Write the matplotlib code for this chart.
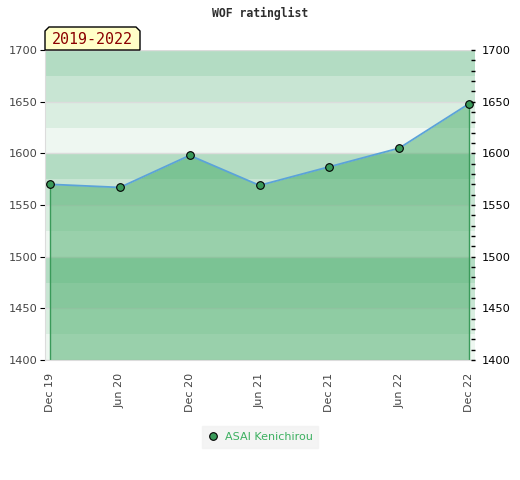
import numpy as np
import matplotlib.pyplot as plt
from matplotlib.patches import Polygon
from matplotlib.ticker import MultipleLocator

# --- data ---
dates = ['Dec 19', 'Jun 20', 'Dec 20', 'Jun 21', 'Dec 21', 'Jun 22', 'Dec 22']
rating = [1570, 1567, 1598, 1569, 1587, 1605, 1648]
player = 'ASAI Kenichirou'
period = '2019-2022'

# background bands, repeating every 100 points (x00-x25 lightest ... x75-x00 darkest)
band_colors = ['#eef7f1', '#daeee1', '#c8e5d3', '#b3dcc3']

fig = plt.figure(figsize=(5.2, 4.8), dpi=100)
ax = fig.add_axes([45/520, 1 - 360/480, 430/520, 310/480])

ymin, ymax = 1400, 1700
for i, lo in enumerate(range(ymin, ymax, 25)):
    ax.axhspan(lo, lo + 25, color=band_colors[i % 4], lw=0, zorder=0)
for y in range(ymin, ymax + 1, 50):
    ax.axhline(y, color='#dcdcdc', lw=1, zorder=0.5)

x = np.arange(len(dates))
ax.fill_between(x, rating, ymin, color='#45ab66', alpha=0.5, lw=0, zorder=1)
ax.vlines([x[0], x[-1]], ymin, [rating[0], rating[-1]], color='#3a9a5a', lw=1, zorder=2)
ax.plot(x, rating, color='#5ba3d9', lw=1.3, zorder=3)
ax.plot(x, rating, 'o', ms=5.5, mfc='#3a9a5a', mec='black', mew=0.8, zorder=4,
        label=player)

ax.set_xlim(-0.072, 6.086)
ax.set_ylim(ymin, ymax)
ax.set_xticks(x)
ax.set_xticklabels(dates, rotation=90, fontsize=8, color='#444444')
ax.tick_params(axis='x', length=0, pad=9)
ax.yaxis.set_major_locator(MultipleLocator(50))
ax.tick_params(axis='y', left=False, labelsize=8.2, labelcolor='#444444', pad=2)
for s in ax.spines.values():
    s.set_visible(False)
ax.spines['left'].set_visible(True)
ax.spines['bottom'].set_visible(True)
ax.spines['left'].set_color('#dcdcdc')
ax.spines['bottom'].set_color('#dcdcdc')

# right axis with minor ticks
ax2 = ax.twinx()
ax2.set_ylim(ymin, ymax)
ax2.yaxis.set_major_locator(MultipleLocator(50))
ax2.yaxis.set_minor_locator(MultipleLocator(10))
ax2.tick_params(axis='y', which='both', direction='in', length=3, width=1,
                color='black', labelsize=8.2, labelcolor='black', pad=5)
for s in ax2.spines.values():
    s.set_visible(False)

fig.text(0.5, 1 - 13/480, 'WOF ratinglist', ha='center', va='center',
         family='DejaVu Sans Mono', fontweight='bold', fontsize=8.3, color='#2e2e2e')

# period tag with clipped top corners
px = lambda v: v / 520
py = lambda v: 1 - v / 480
tag = Polygon([(px(45), py(50)), (px(45), py(31)), (px(49), py(27)),
               (px(136), py(27)), (px(140), py(31)), (px(140), py(50))],
              closed=True, transform=fig.transFigure, fc='#ffffc8', ec='black',
              lw=1, zorder=5)
fig.patches.append(tag)
fig.text(px(92.5), py(39.5), period, ha='center', va='center', family='DejaVu Sans Mono',
         fontsize=10.8, color='#8b0000', zorder=6)

leg = fig.legend(loc='center', bbox_to_anchor=(0.5, 1 - 437/480), frameon=True,
                 fontsize=8, handlelength=1, handletextpad=0.6, borderpad=0.5,
                 fancybox=False)
leg.get_frame().set_facecolor('#f2f2f2')
leg.get_frame().set_edgecolor('#f2f2f2')
for t in leg.get_texts():
    t.set_color('#3cb060')

fig.savefig('out.png', dpi=100)
